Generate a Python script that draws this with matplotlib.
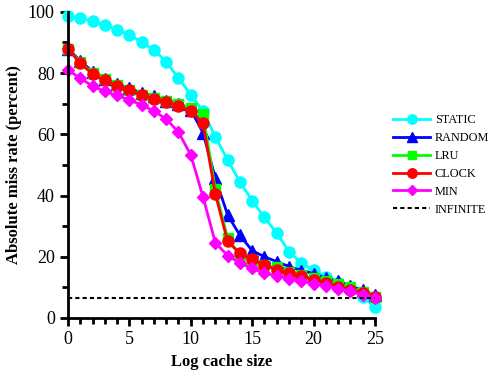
import numpy as np
import matplotlib
matplotlib.use("Agg")
import matplotlib.pyplot as plt
from matplotlib.ticker import MultipleLocator

plt.rcParams["font.family"] = ["Liberation Serif", "DejaVu Serif"]

x = np.arange(26)

static = [98.7, 97.9, 97.0, 95.6, 94.2, 92.5, 90.1, 87.6, 83.7, 78.3, 73.0, 67.5,
          59.2, 51.6, 44.5, 38.3, 32.9, 27.7, 21.7, 17.9, 15.7, 13.5, 11.5, 9.5, 7.0, 3.5]
random_ = [88.0, 84.0, 80.5, 78.0, 76.5, 75.0, 73.5, 72.5, 71.0, 70.0, 68.0, 60.5,
           45.7, 33.7, 27.0, 22.0, 20.0, 18.4, 16.8, 15.5, 14.5, 13.0, 12.0, 10.5, 9.0, 7.5]
lru = [88.0, 83.5, 80.0, 78.0, 76.0, 74.5, 73.0, 72.0, 71.0, 70.0, 68.5, 66.5,
       42.0, 26.0, 20.6, 19.0, 17.3, 16.5, 15.0, 14.0, 13.0, 12.0, 11.0, 10.0, 8.5, 7.0]
clock = [88.0, 83.2, 79.7, 77.6, 75.9, 74.5, 72.9, 71.6, 70.4, 69.3, 67.6, 63.6,
         40.5, 25.0, 21.1, 19.2, 17.3, 15.7, 14.6, 13.7, 12.4, 11.3, 10.2, 9.2, 8.1, 7.0]
min_ = [81.0, 78.3, 75.8, 74.0, 72.7, 71.2, 69.6, 67.6, 65.0, 60.7, 53.3, 39.5,
        24.6, 20.4, 17.9, 16.2, 14.6, 13.8, 12.8, 12.0, 11.2, 10.5, 9.5, 8.7, 7.5, 6.5]
infinite = 6.5

fig = plt.figure(figsize=(4.96, 3.71), dpi=100)
ax = fig.add_axes([0.137, 0.143, 0.619, 0.825])

series = [
    ("STATIC", static, "#00ffff", "o", 8),
    ("RANDOM", random_, "#0000ff", "^", 8),
    ("LRU", lru, "#00ff00", "s", 7.5),
    ("CLOCK", clock, "#ff0000", "o", 8),
    ("MIN", min_, "#ff00ff", "D", 6),
]
for name, vals, col, mk, ms in series:
    ax.plot(x, vals, color=col, marker=mk, markersize=ms, linewidth=2,
            label=name, clip_on=False)
ax.plot([0, 25], [infinite, infinite], color="black", linestyle=(0, (2, 1.5)),
        linewidth=1.5, label="INFINITE")

ax.set_xlim(0, 25)
ax.set_ylim(0, 100)
ax.xaxis.set_major_locator(MultipleLocator(5))
ax.xaxis.set_minor_locator(MultipleLocator(1))
ax.yaxis.set_major_locator(MultipleLocator(20))
ax.yaxis.set_minor_locator(MultipleLocator(10))
for s in ("top", "right"):
    ax.spines[s].set_visible(False)
for s in ("left", "bottom"):
    ax.spines[s].set_linewidth(2)
ax.tick_params(which="major", direction="out", length=6, width=2, labelsize=13)
ax.tick_params(which="minor", direction="out", length=4, width=2)

ax.set_xlabel("Log cache size", fontsize=12, fontweight="bold")
ax.set_ylabel("Absolute miss rate (percent)", fontsize=12, fontweight="bold")

leg = ax.legend(loc="center left", bbox_to_anchor=(1.06, 0.5), frameon=False,
                fontsize=8.8, handlelength=3.0, handletextpad=0.4,
                labelspacing=0.48, borderpad=0, borderaxespad=0)
for h in leg.legend_handles:
    h.set_markersize(h.get_markersize() * 0.85)

fig.savefig("out.png", dpi=100)
